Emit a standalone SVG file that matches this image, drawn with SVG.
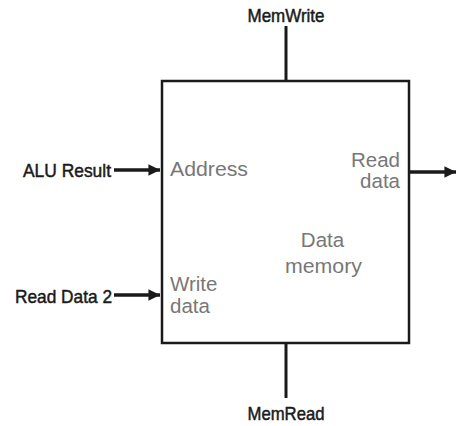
<svg xmlns="http://www.w3.org/2000/svg" width="457" height="426" viewBox="0 0 457 426">
  <defs>
    <marker id="arrow" viewBox="0 0 10 10" refX="10" refY="5" markerWidth="3.3" markerHeight="3.3" markerUnits="strokeWidth" orient="auto">
      <path d="M0,0 L10,5 L0,10 z" fill="#1a1a1a"/>
    </marker>
    <style>
      .sig { font-family: "Liberation Sans", Arial, sans-serif; font-size: 19px; fill: #1a1a1a; stroke: #1a1a1a; stroke-width: 0.5; }
      .port { font-family: "Liberation Sans", Arial, sans-serif; font-size: 20.5px; fill: #777777; }
      .box { fill: #ffffff; stroke: #1a1a1a; stroke-width: 2.5; }
      .wire { stroke: #1a1a1a; stroke-width: 3; fill: none; }
      .arrow { stroke: #1a1a1a; stroke-width: 3.5; fill: none; marker-end: url(#arrow); }
    </style>
  </defs>
  <rect width="457" height="426" fill="#ffffff"/>

  <g id="connectors">
    <line class="wire" x1="286" y1="26" x2="286" y2="81"/>
    <line class="wire" x1="286" y1="343" x2="286" y2="398"/>
    <line class="arrow" x1="114" y1="170" x2="160" y2="170"/>
    <line class="arrow" x1="114" y1="295" x2="160" y2="295"/>
    <line class="arrow" x1="409" y1="172" x2="456" y2="172"/>
  </g>

  <g id="data-memory">
    <rect class="box" x="162" y="81" width="247" height="262"/>
    <text class="port" x="170" y="176" textLength="78" lengthAdjust="spacingAndGlyphs">Address</text>
    <text class="port" x="170" y="291">Write</text>
    <text class="port" x="170" y="313">data</text>
    <text class="port" x="400" y="167" text-anchor="end">Read</text>
    <text class="port" x="400" y="188" text-anchor="end">data</text>
    <text class="port" x="322.5" y="247" text-anchor="middle">Data</text>
    <text class="port" x="323.5" y="273" text-anchor="middle" textLength="77" lengthAdjust="spacingAndGlyphs">memory</text>
  </g>

  <g id="memwrite">
    <text class="sig" x="286" y="22" text-anchor="middle" textLength="77" lengthAdjust="spacingAndGlyphs">MemWrite</text>
  </g>
  <g id="memread">
    <text class="sig" x="286" y="420" text-anchor="middle" textLength="77" lengthAdjust="spacingAndGlyphs">MemRead</text>
  </g>
  <g id="alu-result">
    <text class="sig" x="23" y="177" textLength="88" lengthAdjust="spacingAndGlyphs">ALU Result</text>
  </g>
  <g id="read-data-2">
    <text class="sig" x="15" y="303" textLength="97" lengthAdjust="spacingAndGlyphs">Read Data 2</text>
  </g>
</svg>
